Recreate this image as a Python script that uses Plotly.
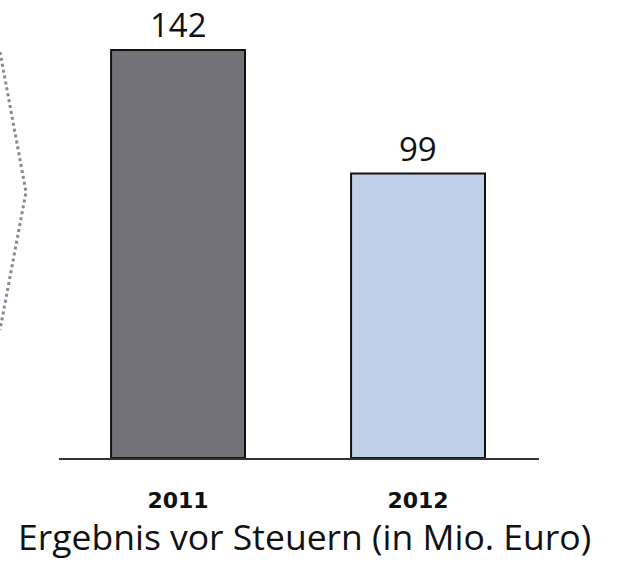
import plotly.graph_objects as go

years = ["2011", "2012"]
values = [142, 99]
bar_colors = ["#737278", "#c0d0e8"]
value_labels = ["142", "99"]
axis_title = "Ergebnis vor Steuern (in Mio. Euro)"

W, H = 617, 561
x_left_px, x_right_px = 59, 539
base_px = 458

fig = go.Figure()
fig.add_trace(go.Bar(
    x=years, y=values,
    marker=dict(color=bar_colors, line=dict(color="#111111", width=2)),
    width=0.558,
    hoverinfo="skip",
))

for i, (v, lab) in enumerate(zip(values, value_labels)):
    fig.add_annotation(x=i, y=v, text=lab, showarrow=False,
                       yanchor="bottom", yshift=1,
                       font=dict(family="Open Sans", size=33, color="#111111"))

def py(p):
    return (base_px - p) / base_px

fig.add_annotation(x=304 / W, y=py(536), xref="paper", yref="paper",
                   text=axis_title, showarrow=False, yanchor="middle",
                   borderpad=0,
                   font=dict(family="Open Sans", size=35.5, color="#111111"))

# decorative dotted chevron on the left
fig.add_shape(type="path", xref="paper", yref="paper",
              path=f"M 0,{py(52)} L {26/W},{py(192)} L 0,{py(330)}",
              line=dict(color="#878a96", width=3, dash="dot"))

fig.update_layout(
    width=W, height=H,
    margin=dict(l=0, r=0, t=0, b=H - base_px),
    paper_bgcolor="white", plot_bgcolor="white",
    showlegend=False,
    xaxis=dict(type="category", domain=[x_left_px / W, x_right_px / W], range=[-0.496, 1.504],
               showline=True, linecolor="#333333", linewidth=2,
               showgrid=False, zeroline=False, ticks="",
               ticklabelstandoff=22,
               tickfont=dict(family="DejaVu Sans", size=22, color="#111111", weight="bold")),
    yaxis=dict(range=[0, base_px / 2.873], visible=False, showgrid=False, zeroline=False),
)

fig.write_html("out.html", config={"displayModeBar": False},
               post_script="document.body.style.margin='0';")
